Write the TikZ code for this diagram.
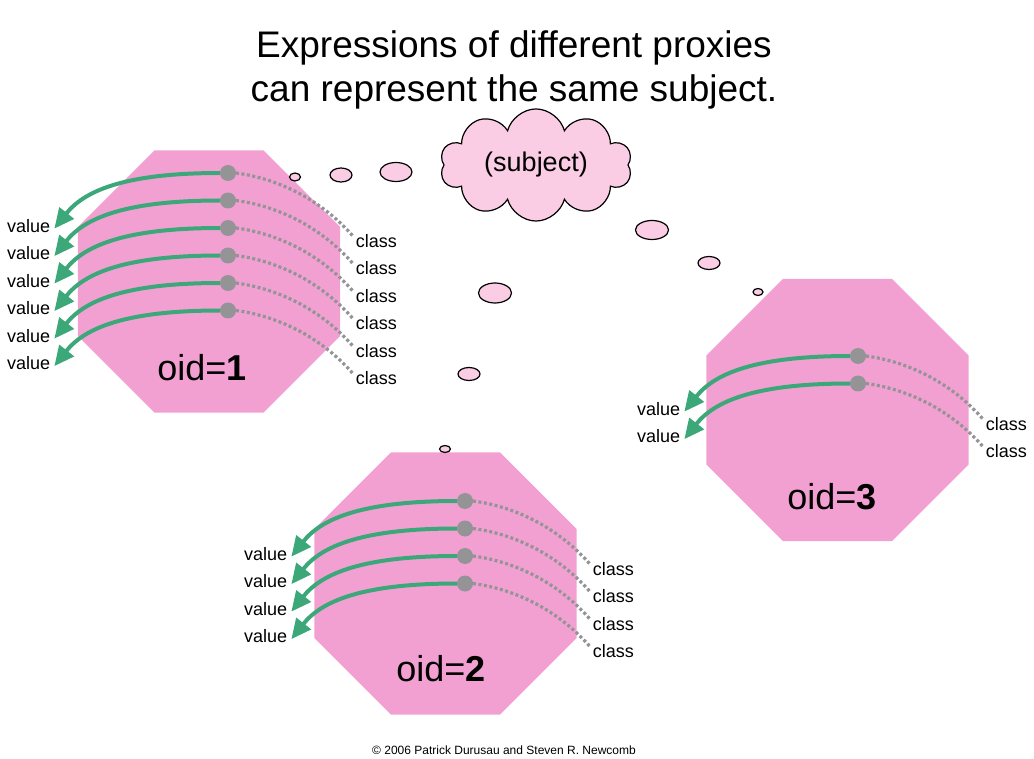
\documentclass[tikz,border=0pt]{standalone}
\usepackage{fontspec}
\setmainfont{Liberation Sans}
\usetikzlibrary{arrows.meta,positioning,shapes.geometric,shapes.symbols}
\definecolor{octpink}{RGB}{242,160,210}
\definecolor{bubpink}{RGB}{250,205,228}
\definecolor{valgreen}{RGB}{60,168,122}
\definecolor{dotgray}{RGB}{148,148,150}

\begin{document}
\begin{tikzpicture}[x=1pt,y=-1pt,
  oct/.style={regular polygon,regular polygon sides=8,minimum size=284pt,inner sep=0pt,fill=octpink},
  oid/.style={font=\fontsize{36}{40}\selectfont},
  slot/.style={circle,fill=dotgray,minimum size=16pt,inner sep=0pt,outer sep=0pt},
  val/.style={font=\fontsize{18}{20}\selectfont,inner xsep=4pt,inner ysep=0pt},
  cls/.style={font=\fontsize{18}{20}\selectfont,inner xsep=2pt,inner ysep=0pt},
  bub/.style={ellipse,draw,line width=1.2pt,fill=bubpink,inner sep=0pt},
  arr/.style={-{Triangle[length=20pt,width=18pt]},line width=4pt,valgreen},
  darr/.style={line width=3.2pt,dotgray,dash pattern=on 3pt off 2.5pt}
]
\useasboundingbox (0,0) rectangle (1034,759);
\node[align=center,font=\fontsize{37}{44}\selectfont] (title) at (514,70) {Expressions of different proxies\\can represent the same subject.};
\node[font=\fontsize{12}{14}\selectfont] (copy) at (504,750) {© 2006 Patrick Durusau and Steven R. Newcomb};

\node[oct] (oct1) at (209,281.5) {};
\node[oct] (oct2) at (445.5,583.5) {};
\node[oct] (oct3) at (837.5,410) {};
\node[oid] (oid1) at (202,368) {oid=\textbf{1}};
\node[oid] (oid2) at (441,669) {oid=\textbf{2}};
\node[oid] (oid3) at (832,497) {oid=\textbf{3}};

\node[cloud,cloud puffs=10,aspect=1.8,draw,line width=1.2pt,fill=bubpink,minimum width=192pt,minimum height=106pt,inner sep=0pt,font=\fontsize{27}{30}\selectfont] (subj) at (536,165) {(subject)};
\node[bub,minimum width=11pt,minimum height=8pt] (b1) at (295,177) {};
\node[bub,minimum width=22pt,minimum height=14pt] (b2) at (341,175) {};
\node[bub,minimum width=32pt,minimum height=19pt] (b3) at (396,172) {};
\node[bub,minimum width=33pt,minimum height=19pt] (b4) at (652,230) {};
\node[bub,minimum width=22pt,minimum height=13pt] (b5) at (709,263) {};
\node[bub,minimum width=10pt,minimum height=7pt] (b6) at (758,292) {};
\node[bub,minimum width=33pt,minimum height=20pt] (b7) at (495,293) {};
\node[bub,minimum width=22pt,minimum height=13pt] (b8) at (469,374) {};
\node[bub,minimum width=11pt,minimum height=7pt] (b9) at (445,449) {};

\node[slot] (d11) at (228,173) {};
\node[slot,below=11.5pt of d11] (d12) {};
\node[slot,below=11.5pt of d12] (d13) {};
\node[slot,below=11.5pt of d13] (d14) {};
\node[slot,below=11.5pt of d14] (d15) {};
\node[slot,below=11.5pt of d15] (d16) {};
\node[slot] (d21) at (465,501) {};
\node[slot,below=11.5pt of d21] (d22) {};
\node[slot,below=11.5pt of d22] (d23) {};
\node[slot,below=11.5pt of d23] (d24) {};
\node[slot] (d31) at (858,356) {};
\node[slot,below=11.5pt of d31] (d32) {};

\node[val,below left=40.5pt and 168pt of d11] (v11) {value};
\node[val,below left=40.5pt and 168pt of d12] (v12) {value};
\node[val,below left=40.5pt and 168pt of d13] (v13) {value};
\node[val,below left=40.5pt and 168pt of d14] (v14) {value};
\node[val,below left=40.5pt and 168pt of d15] (v15) {value};
\node[val,below left=40.5pt and 168pt of d16] (v16) {value};
\node[val,below left=40.5pt and 168pt of d21] (v21) {value};
\node[val,below left=40.5pt and 168pt of d22] (v22) {value};
\node[val,below left=40.5pt and 168pt of d23] (v23) {value};
\node[val,below left=40.5pt and 168pt of d24] (v24) {value};
\node[val,below left=40.5pt and 168pt of d31] (v31) {value};
\node[val,below left=40.5pt and 168pt of d32] (v32) {value};

\node[cls,below right=55.5pt and 120pt of d11] (c11) {class};
\node[cls,below right=55.5pt and 120pt of d12] (c12) {class};
\node[cls,below right=55.5pt and 120pt of d13] (c13) {class};
\node[cls,below right=55.5pt and 120pt of d14] (c14) {class};
\node[cls,below right=55.5pt and 120pt of d15] (c15) {class};
\node[cls,below right=55.5pt and 120pt of d16] (c16) {class};
\node[cls,below right=55.5pt and 120pt of d21] (c21) {class};
\node[cls,below right=55.5pt and 120pt of d22] (c22) {class};
\node[cls,below right=55.5pt and 120pt of d23] (c23) {class};
\node[cls,below right=55.5pt and 120pt of d24] (c24) {class};
\node[cls,below right=55.5pt and 120pt of d31] (c31) {class};
\node[cls,below right=55.5pt and 120pt of d32] (c32) {class};

\draw[arr] (d11.west) .. controls +(-95,0) and +(30,-38) .. (v11.-6);
\draw[arr] (d12.west) .. controls +(-95,0) and +(30,-38) .. (v12.-6);
\draw[arr] (d13.west) .. controls +(-95,0) and +(30,-38) .. (v13.-6);
\draw[arr] (d14.west) .. controls +(-95,0) and +(30,-38) .. (v14.-6);
\draw[arr] (d15.west) .. controls +(-95,0) and +(30,-38) .. (v15.-6);
\draw[arr] (d16.west) .. controls +(-95,0) and +(30,-38) .. (v16.-6);
\draw[arr] (d21.west) .. controls +(-95,0) and +(30,-38) .. (v21.-6);
\draw[arr] (d22.west) .. controls +(-95,0) and +(30,-38) .. (v22.-6);
\draw[arr] (d23.west) .. controls +(-95,0) and +(30,-38) .. (v23.-6);
\draw[arr] (d24.west) .. controls +(-95,0) and +(30,-38) .. (v24.-6);
\draw[arr] (d31.west) .. controls +(-95,0) and +(30,-38) .. (v31.-6);
\draw[arr] (d32.west) .. controls +(-95,0) and +(30,-38) .. (v32.-6);

\draw[darr] (d11.east) .. controls +(45,6) and +(-30,-35) .. (c11.170);
\draw[darr] (d12.east) .. controls +(45,6) and +(-30,-35) .. (c12.170);
\draw[darr] (d13.east) .. controls +(45,6) and +(-30,-35) .. (c13.170);
\draw[darr] (d14.east) .. controls +(45,6) and +(-30,-35) .. (c14.170);
\draw[darr] (d15.east) .. controls +(45,6) and +(-30,-35) .. (c15.170);
\draw[darr] (d16.east) .. controls +(45,6) and +(-30,-35) .. (c16.170);
\draw[darr] (d21.east) .. controls +(45,6) and +(-30,-35) .. (c21.170);
\draw[darr] (d22.east) .. controls +(45,6) and +(-30,-35) .. (c22.170);
\draw[darr] (d23.east) .. controls +(45,6) and +(-30,-35) .. (c23.170);
\draw[darr] (d24.east) .. controls +(45,6) and +(-30,-35) .. (c24.170);
\draw[darr] (d31.east) .. controls +(45,6) and +(-30,-35) .. (c31.170);
\draw[darr] (d32.east) .. controls +(45,6) and +(-30,-35) .. (c32.170);
\end{tikzpicture}
\end{document}
